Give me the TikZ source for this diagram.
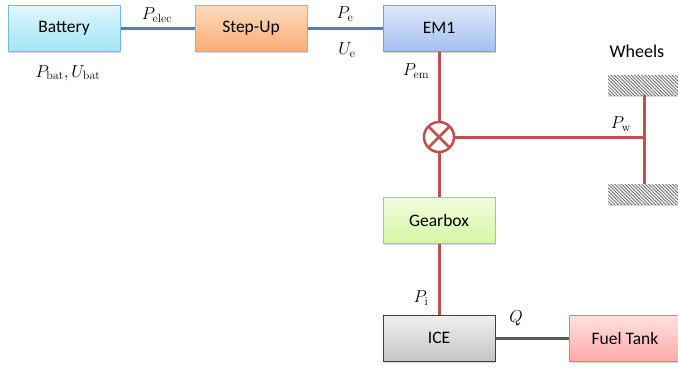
\documentclass[tikz,border=0pt]{standalone}
\usepackage[no-math]{fontspec}
\setmainfont{Carlito}
\usetikzlibrary{patterns.meta,shadows}

\definecolor{battop}{RGB}{224,247,253}
\definecolor{batbot}{RGB}{163,228,246}
\definecolor{batline}{RGB}{110,192,216}
\definecolor{steptop}{RGB}{253,220,190}
\definecolor{stepbot}{RGB}{249,172,118}
\definecolor{stepline}{RGB}{240,156,92}
\definecolor{emtop}{RGB}{224,233,251}
\definecolor{embot}{RGB}{164,192,240}
\definecolor{emline}{RGB}{120,156,214}
\definecolor{geartop}{RGB}{242,252,222}
\definecolor{gearbot}{RGB}{214,245,164}
\definecolor{gearline}{RGB}{164,206,110}
\definecolor{icetop}{RGB}{240,240,240}
\definecolor{icebot}{RGB}{196,196,196}
\definecolor{tanktop}{RGB}{255,226,226}
\definecolor{tankbot}{RGB}{255,170,170}
\definecolor{tankline}{RGB}{226,126,126}
\definecolor{elecblue}{RGB}{79,129,189}
\definecolor{mechred}{RGB}{192,80,77}
\definecolor{fuelgray}{RGB}{89,89,89}

\tikzset{every picture/.style={line width=0.75pt},
  block/.style={draw, line width=1pt, minimum width=112, minimum height=46, inner sep=0pt,
    font=\fontsize{17.5}{20}\selectfont,
    drop shadow={shadow xshift=1pt, shadow yshift=-1.5pt, opacity=0.3}},
  lbl/.style={inner sep=0.75pt, font=\fontsize{18}{21}\selectfont},
  wheel/.style={minimum width=72, minimum height=20, inner sep=0pt, fill=gray!10,
    postaction={pattern={Lines[angle=-45, distance=2.4pt, line width=0.7pt]}, pattern color=gray!75!black},
    drop shadow={shadow xshift=1pt, shadow yshift=-1.5pt, opacity=0.3}},
  elec/.style={draw=elecblue, line width=3pt},
  mech/.style={draw=mechred, line width=3pt},
  fuel/.style={draw=fuelgray, line width=3pt},
  mixer/.style={circle, draw=mechred, line width=2.5pt, fill=white, minimum size=30, inner sep=0pt,
    path picture={\draw [mechred, line width=2.5pt]
      (path picture bounding box.north west) -- (path picture bounding box.south east)
      (path picture bounding box.north east) -- (path picture bounding box.south west);}}
}

\begin{document}
\begin{tikzpicture}[x=1pt,y=1pt,yscale=-1,xscale=1]
\useasboundingbox (0,0) rectangle (678,367);

%Shape: Rectangle [Battery]
\node [block, top color=battop, bottom color=batbot, draw=batline] (bat) at (64,28) {Battery};
%Shape: Rectangle [Step-Up]
\node [block, top color=steptop, bottom color=stepbot, draw=stepline] (stepup) at (251,28) {Step-Up};
%Shape: Rectangle [EM1]
\node [block, top color=emtop, bottom color=embot, draw=emline] (em) at (439,28) {EM1};
%Shape: Rectangle [Gearbox]
\node [block, top color=geartop, bottom color=gearbot, draw=gearline] (gear) at (439,220) {Gearbox};
%Shape: Rectangle [ICE]
\node [block, top color=icetop, bottom color=icebot, draw=black!75] (ice) at (439,338) {ICE};
%Shape: Rectangle [Fuel Tank]
\node [block, top color=tanktop, bottom color=tankbot, draw=tankline] (tank) at (625,338) {Fuel Tank};

%Shape: Wheels
\node [wheel] (wtop) at (644,85) {};
\node [wheel] (wbot) at (644,194) {};

%Shape: Circle
\node [mixer] (mix) at (439,137) {};

%Straight Lines
\draw [elec] (bat) -- (stepup);
\draw [elec] (stepup) -- (em);
\draw [mech] (em) -- (mix);
\draw [mech] (mix) -- (gear);
\draw [mech] (gear) -- (ice);
\draw [mech] (wtop) -- (wbot);
\draw [mech] (mix) -- (mix -| wtop);
\draw [fuel] (ice) -- (tank);

% Text Node
\node [lbl] (pelec) at (157,15) {$P_{\mathrm{elec}}$};
% Text Node
\node [lbl] (pbat) at (68,73) {$P_{\mathrm{bat}}, U_{\mathrm{bat}}$};
% Text Node
\node [lbl] (pe) at (345,14) {$P_{\mathrm{e}}$};
% Text Node
\node [lbl] (ue) at (347,50) {$U_{\mathrm{e}}$};
% Text Node
\node [lbl] (pem) at (416,71) {$P_{\mathrm{em}}$};
% Text Node
\node [lbl] (pw) at (621,124) {$P_{\mathrm{w}}$};
% Text Node
\node [lbl] (pi) at (421,298) {$P_{\mathrm{i}}$};
% Text Node
\node [lbl] (q) at (516,318) {$Q$};
% Text Node
\node [lbl] (wheels) at (637,51) {Wheels};

\end{tikzpicture}
\end{document}
